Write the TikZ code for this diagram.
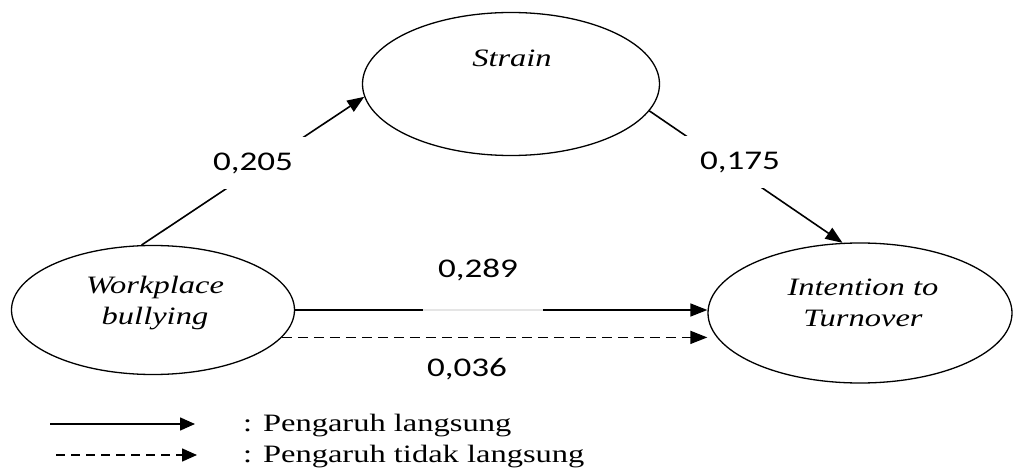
\documentclass[tikz,border=0pt]{standalone}
\usepackage{fontspec}
\setmainfont{Liberation Serif}[FakeStretch=1.3]
\newfontfamily\numfont{Carlito}[FakeStretch=1.3]
\usetikzlibrary{shapes.geometric,arrows.meta}

\begin{document}
\begin{tikzpicture}[x=1pt, y=-1pt, font=\fontsize{25}{30}\selectfont,
		latent/.style={draw, ellipse, line width=1.3pt, inner sep=0pt},
		vartext/.style={align=center, inner sep=0pt, font=\fontsize{25}{31}\selectfont\itshape},
		direct/.style={line width=1.6pt, -{Triangle[length=17pt, width=13pt]}},
		indirect/.style={direct, dash pattern=on 10pt off 6pt},
		coef/.style={fill=white, inner xsep=19pt, inner ysep=16pt, font=\fontsize{27}{32}\numfont}]
	\useasboundingbox (0,0) rectangle (1014,470);

	% Strain
	\node[latent, minimum width=297pt, minimum height=143pt] (strain) at (511,84) {};
	\node[vartext] (straintext) at (512,58) {Strain};

	% Workplace bullying
	\node[latent, minimum width=283pt, minimum height=129pt] (wb) at (153,310) {};
	\node[vartext] (wbtext) at (155,303) {Workplace\\bullying};

	% Intention to Turnover
	\node[latent, minimum width=304pt, minimum height=140pt] (itt) at (860,313) {};
	\node[vartext] (itttext) at (863,303) {Intention to\\Turnover};

	% Paths
	\draw[direct] (wb.100) -- (strain.185);
	\draw[direct] (strain.-11.5) -- (itt.104);
	\draw[direct] (wb.east) -- (wb.east -| itt.west);
	\coordinate (fade1) at (423,310);
	\coordinate (fade2) at (543,310);
	\draw[gray!20, line width=1.6pt] (fade1) -- (fade2);
	\draw[indirect] (wb.-12) -- (wb.-12 -| itt.west);

	% Coefficients
	\node[coef] (c1) at (253,163) {0,205};
	\node[coef] (c2) at (740,162) {0,175};
	\node[coef] (c3) at (478,270) {0,289};
	\node[coef] (c4) at (467,369) {0,036};

	% Legend
	\coordinate (l1a) at (50,424);
	\coordinate (l1b) at (195,424);
	\coordinate (l2a) at (56,455);
	\coordinate (l2b) at (197,455);
	\draw[direct, -{Triangle[length=15pt, width=13pt]}] (l1a) -- (l1b);
	\draw[indirect, dash pattern=on 9pt off 6pt, -{Triangle[length=15pt, width=13pt]}] (l2a) -- (l2b);
	\node[anchor=west, inner sep=0pt] (leg1) at (243,426) {: Pengaruh langsung};
	\node[anchor=west, inner sep=0pt] (leg2) at (243,457) {: Pengaruh tidak langsung};
\end{tikzpicture}
\end{document}
